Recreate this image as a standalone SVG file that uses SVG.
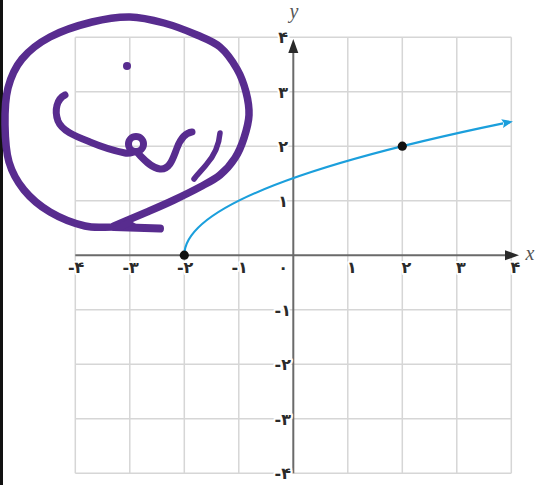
<svg xmlns="http://www.w3.org/2000/svg" width="540" height="485" viewBox="0 0 540 485">
  <style>
    .grid { stroke: #d6d6d6; stroke-width: 1.5; fill: none; }
    .axis { stroke: #6a6a6a; stroke-width: 2; fill: none; }
    .tick { font-family: "DejaVu Sans", sans-serif; font-size: 16px; font-weight: bold; fill: #2a2a2a; paint-order: stroke; stroke: #fff; stroke-width: 4; stroke-linejoin: round; }
    .xl { text-anchor: end; }
    .yl { text-anchor: end; }
    .var { font-family: "Liberation Serif", serif; font-style: italic; font-size: 20px; fill: #555; text-anchor: middle; }
    .curve { stroke: #1b9fdc; stroke-width: 2.2; fill: none; }
    .pen { stroke: #582c8f; fill: none; stroke-linecap: round; stroke-linejoin: round; }
  </style>
  <defs>
    <marker id="axArrow" markerUnits="userSpaceOnUse" markerWidth="16" markerHeight="12" refX="1" refY="5" orient="auto">
      <path d="M0,0 L14,5 L0,10 z" fill="#2a2a2a"/>
    </marker>
    <marker id="blueArrow" markerUnits="userSpaceOnUse" markerWidth="14" markerHeight="10" refX="1" refY="4.5" orient="auto">
      <path d="M0,0 L11,4.5 L0,9 L2,4.5 z" fill="#1b9fdc"/>
    </marker>
  </defs>
  <rect x="0" y="0" width="540" height="485" fill="#ffffff"/>
  <rect x="0" y="0" width="3" height="485" fill="#111111"/>

  <g id="grid" class="grid">
    <line x1="75.3" y1="37.2" x2="75.3" y2="473.2"/>
    <line x1="129.8" y1="37.2" x2="129.8" y2="473.2"/>
    <line x1="184.3" y1="37.2" x2="184.3" y2="473.2"/>
    <line x1="238.8" y1="37.2" x2="238.8" y2="473.2"/>
    <line x1="347.8" y1="37.2" x2="347.8" y2="473.2"/>
    <line x1="402.3" y1="37.2" x2="402.3" y2="473.2"/>
    <line x1="456.8" y1="37.2" x2="456.8" y2="473.2"/>
    <line x1="511.3" y1="37.2" x2="511.3" y2="473.2"/>
    <line x1="75.3" y1="37.2" x2="511.3" y2="37.2"/>
    <line x1="75.3" y1="91.7" x2="511.3" y2="91.7"/>
    <line x1="75.3" y1="146.2" x2="511.3" y2="146.2"/>
    <line x1="75.3" y1="200.7" x2="511.3" y2="200.7"/>
    <line x1="75.3" y1="309.7" x2="511.3" y2="309.7"/>
    <line x1="75.3" y1="364.2" x2="511.3" y2="364.2"/>
    <line x1="75.3" y1="418.7" x2="511.3" y2="418.7"/>
    <line x1="75.3" y1="473.2" x2="511.3" y2="473.2"/>
  </g>

  <g id="axes">
    <line class="axis" x1="75.3" y1="255.2" x2="506" y2="255.2" marker-end="url(#axArrow)"/>
    <line class="axis" x1="293.3" y1="473.2" x2="293.3" y2="52" marker-end="url(#axArrow)"/>
  </g>

  <g id="x-labels" class="tick xl">
    <text x="84.3" y="273">-۴</text>
    <text x="138.8" y="273">-۳</text>
    <text x="193.3" y="273">-۲</text>
    <text x="247.8" y="273">-۱</text>
    <text x="288" y="273">۰</text>
    <text x="356.8" y="273">۱</text>
    <text x="411.3" y="273">۲</text>
    <text x="465.8" y="273">۳</text>
    <text x="520.3" y="273">۴</text>
  </g>

  <g id="y-labels" class="tick yl">
    <text x="288" y="43">۴</text>
    <text x="288" y="97.5">۳</text>
    <text x="288" y="152">۲</text>
    <text x="288" y="206.5">۱</text>
    <text x="291" y="315.5">-۱</text>
    <text x="291" y="370">-۲</text>
    <text x="291" y="424.5">-۳</text>
    <text x="291" y="479">-۴</text>
  </g>

  <g id="axis-names">
    <text class="var" x="530" y="260">x</text>
    <text class="var" x="294" y="18">y</text>
  </g>

  <g id="connectors">
    <path id="graph" class="curve" d="M184.3,255.2 Q184.3,189.3 503.1,123.4" marker-end="url(#blueArrow)"/>
  </g>

  <g id="point-a">
    <circle cx="184.3" cy="255.2" r="4.6" fill="#111"/>
  </g>
  <g id="point-b">
    <circle cx="402.3" cy="146.2" r="4.6" fill="#111"/>
  </g>

  <g id="scribble">
    <path class="pen" stroke-width="7.5" d="M114,226 C125,221.3 137,216.3 147,212 C157,207.7 165.2,204.2 174,200 C182.8,195.8 192.3,191.2 200,187 C207.7,182.8 214.2,179.8 220,175 C225.8,170.2 231,164.2 235,158 C239,151.8 241.7,145.2 244,138 C246.3,130.8 248.7,122.7 249,115 C249.3,107.3 248,99.7 246,92 C244,84.3 241.3,76.5 237,69 C232.7,61.5 226.7,52.7 220,47 C213.3,41.3 206.3,39 197,35 C187.7,31 175.2,26 164,23 C152.8,20 142,17.2 130,17 C118,16.8 105.3,18.7 92,22 C78.7,25.3 61.7,30.8 50,37 C38.3,43.2 29,50.5 22,59 C15,67.5 10.8,77 8,88 C5.2,99 4.8,112.7 5,125 C5.2,137.3 5.8,151.2 9,162 C12.2,172.8 17.2,181.7 24,190 C30.8,198.3 39.8,206 50,212 C60.2,218 74.3,223.5 85,226 C95.7,228.5 104.3,226.7 114,227"/>
    <path class="pen" stroke-width="8" d="M114,227 L160,228.5"/>
    <path fill="#582c8f" d="M112,228 L128,219 L136,224 L120,230.5 z"/>
    <path class="pen" stroke-width="7" d="M65,95 C57,99 54,110 58,121 C62,131 75,136 90,142 C102,147 115,151 125,153 C130,154 133,152 136,151.5 A7.5,7.5 0 0 0 136,136.5 A7.5,7.5 0 0 0 136,151.5 C142,157 150,168 160,169 C170,170 173,158 177,148 C180,140 184,133 192,132"/>
    <path class="pen" stroke-width="5.5" d="M220,133 C219,146 214,156 206,165 C201,171 197,175 194,179"/>
    <circle cx="127" cy="66" r="4" fill="#582c8f"/>
  </g>
</svg>
